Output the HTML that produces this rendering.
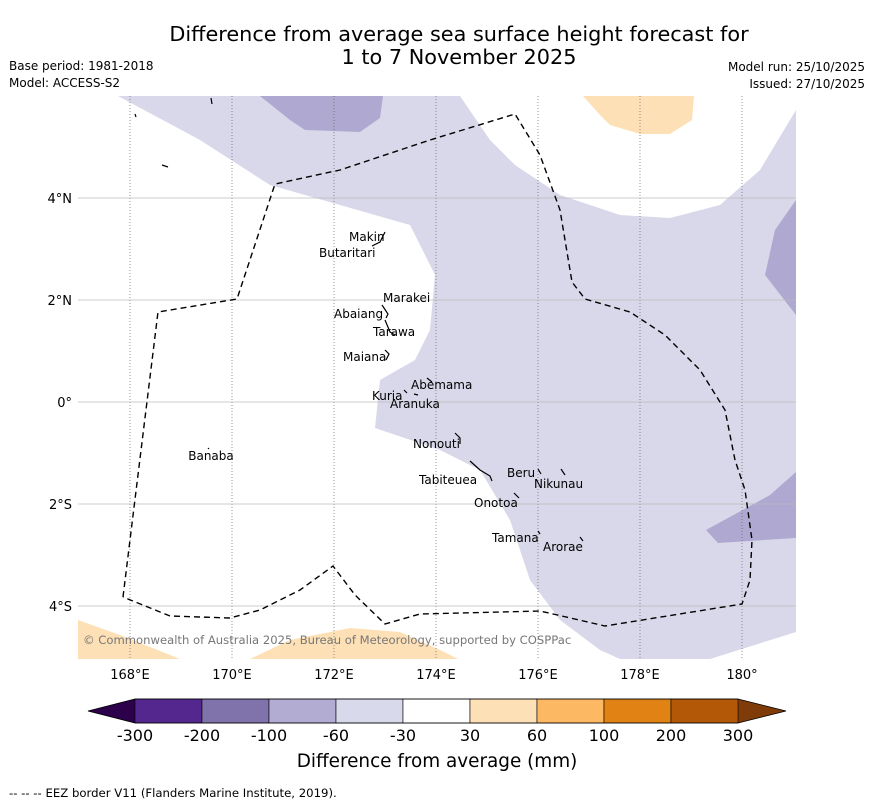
<!DOCTYPE html>
<html><head><meta charset="utf-8"><style>
body{margin:0;background:#fff;font-family:"Liberation Sans","DejaVu Sans",sans-serif;}
svg text{font-family:"DejaVu Sans","Liberation Sans",sans-serif;}
</style></head><body>
<svg width="873" height="804" viewBox="0 0 873 804">
<text x="459" y="41" text-anchor="middle" font-size="20.8">Difference from average sea surface height forecast for</text>
<text x="459" y="64" text-anchor="middle" font-size="20.8">1 to 7 November 2025</text>
<text x="9" y="70" font-size="12">Base period: 1981-2018</text>
<text x="9" y="87" font-size="12">Model: ACCESS-S2</text>
<text x="865" y="71" font-size="12" text-anchor="end">Model run: 25/10/2025</text>
<text x="865" y="88" font-size="12" text-anchor="end">Issued: 27/10/2025</text>
<g>
<clipPath id="mc"><rect x="78" y="96" width="718" height="563"/></clipPath>
<g clip-path="url(#mc)">
<rect x="78" y="96" width="718" height="563" fill="#fff"/>
<polygon fill="#d8d8ea" points="118,96 200,140 270,185 340,205 410,225 435,275 430,330 415,360 380,380 375,428 440,450 480,470 510,520 530,580 560,620 600,650 620,659 710,659 796,632 796,110 760,170 720,205 670,218 620,215 560,195 515,165 490,140 460,96"/>
<polygon fill="#afa8d0" points="260,96 290,120 305,130 360,132 380,118 383,96"/>
<polygon fill="#afa8d0" points="796,200 775,230 765,275 796,315"/>
<polygon fill="#afa8d0" points="706,530 718,543 796,538 796,472 770,495"/>
<polygon fill="#fde0b6" points="583,96 600,115 610,125 640,134 670,134 692,120 694,96"/>
<polygon fill="#fde0b6" points="78,620 120,635 180,659 78,659"/>
<polygon fill="#fde0b6" points="250,659 290,640 350,628 400,632 440,650 458,659"/>
<g id="grid"></g>
<polyline fill="none" stroke="#000" stroke-width="1.4" stroke-dasharray="6,4" points="123,597 158,312 237,299 275,184 340,170 430,140 515,114 540,155 560,210 572,282 585,299 630,312 665,335 700,370 725,410 735,460 745,490 752,540 750,580 742,604 605,626 540,611 420,614 385,624 355,595 333,566 300,590 260,610 230,618 170,616 123,597"/>
<g fill="none" stroke="#000" stroke-width="1.2">
<path d="M372,246 L380,242 L385,232"/><path d="M382,305 L388,314 L386,318 M385,320 L390,332 L395,335"/><path d="M385,350 L389,354 L386,360"/><path d="M427,378 L432,382"/><path d="M404,390 L407,393 M414,394 L418,395"/><path d="M455,433 L460,438 L460,444"/><path d="M470,461 L480,470 L490,476 L492,481"/><path d="M538,469 L541,474 M561,469 L565,475"/><path d="M514,493 L519,498"/><path d="M538,531 L540,534 M580,537 L583,541"/><path d="M208,448 L209,449"/><path d="M211,98 L212,104 M135,114 L136,117 M162,165 L168,167"/>
</g>
<text x="211" y="460" font-size="12" text-anchor="middle">Banaba</text>
<text x="349" y="241" font-size="12">Makin</text>
<text x="319" y="257" font-size="12">Butaritari</text>
<text x="383" y="302" font-size="12">Marakei</text>
<text x="334" y="318" font-size="12">Abaiang</text>
<text x="373" y="336" font-size="12">Tarawa</text>
<text x="343" y="361" font-size="12">Maiana</text>
<text x="411" y="389" font-size="12">Abemama</text>
<text x="372" y="400" font-size="12">Kuria</text>
<text x="390" y="408" font-size="12">Aranuka</text>
<text x="413" y="448" font-size="12">Nonouti</text>
<text x="419" y="484" font-size="12">Tabiteuea</text>
<text x="507" y="477" font-size="12">Beru</text>
<text x="534" y="488" font-size="12">Nikunau</text>
<text x="474" y="507" font-size="12">Onotoa</text>
<text x="492" y="542" font-size="12">Tamana</text>
<text x="543" y="551" font-size="12">Arorae</text>
<text x="83" y="644" font-size="11.6" fill="#777">© Commonwealth of Australia 2025, Bureau of Meteorology, supported by COSPPac</text>
</g>
</g>
<g id="axes"></g>
<g id="cbar"></g>
<text x="437" y="767" font-size="18.4" text-anchor="middle">Difference from average (mm)</text>
<text x="9" y="797" font-size="11.7">--  --  -- EEZ border V11 (Flanders Marine Institute, 2019).</text>
</svg>
<script>
const lonTicks=[168,170,172,174,176,178,180];
const lonLabels=["168°E","170°E","172°E","174°E","176°E","178°E","180°"];
const latTicks=[4,2,0,-2,-4];
const latLabels=["4°N","2°N","0°","2°S","4°S"];
const levels=["-300","-200","-100","-60","-30","30","60","100","200","300"];
const colors=["#54278f","#8073ac","#b2abd2","#d8daeb","#ffffff","#fee0b6","#fdb863","#e08214","#b35806"];
const lowColor="#2d004b", highColor="#7f3b08";
const NS="http://www.w3.org/2000/svg";
const x=lon=>130+(lon-168)*51;
const y=lat=>402-lat*51;
function mk(t,a,p){const e=document.createElementNS(NS,t);for(const k in a)e.setAttribute(k,a[k]);p.appendChild(e);return e;}
const g=document.getElementById('grid'),ax=document.getElementById('axes');
lonTicks.forEach((v,i)=>{
 const l=mk('line',{x1:x(v),x2:x(v),y1:96,y2:659,stroke:'#666','stroke-width':0.7,'stroke-dasharray':'1,2'},g);
 
 
 const t=mk('text',{x:x(v),y:679,'font-size':13,'text-anchor':'middle'},ax);t.textContent=lonLabels[i];
 
 
});
latTicks.forEach((v,i)=>{
 const l=mk('line',{x1:78,x2:796,y1:y(v),y2:y(v),stroke:'#bbb','stroke-width':0.8},g);
 
 
 const t=mk('text',{x:72,y:y(v)+5,'font-size':13,'text-anchor':'end'},ax);t.textContent=latLabels[i];
 
 
});
const cb=document.getElementById('cbar');
const cx0=135,cw=67,cy=699,ch=24,n=colors.length;
const lt=mk('polygon',{points:`${cx0},${cy} ${cx0},${cy+ch} 88,${cy+ch/2}`,fill:lowColor},cb);


const ht=mk('polygon',{points:`${cx0+n*cw},${cy} ${cx0+n*cw},${cy+ch} 786,${cy+ch/2}`,fill:highColor},cb);


colors.forEach((c,i)=>{
 const r=mk('rect',{x:cx0+i*cw,y:cy,width:cw,height:ch,fill:c,stroke:'#000','stroke-width':0.6},cb);
 
 
});
levels.forEach((s,i)=>{
 const t=mk('text',{x:cx0+i*cw,y:741,'font-size':16,'text-anchor':'middle'},cb);t.textContent=s;
 
 
});
mk('polygon',{points:`88,${cy+ch/2} ${cx0},${cy} ${cx0+n*cw},${cy} 786,${cy+ch/2} ${cx0+n*cw},${cy+ch} ${cx0},${cy+ch}`,fill:'none',stroke:'#000','stroke-width':0.8},cb);
</script>
</body></html>
